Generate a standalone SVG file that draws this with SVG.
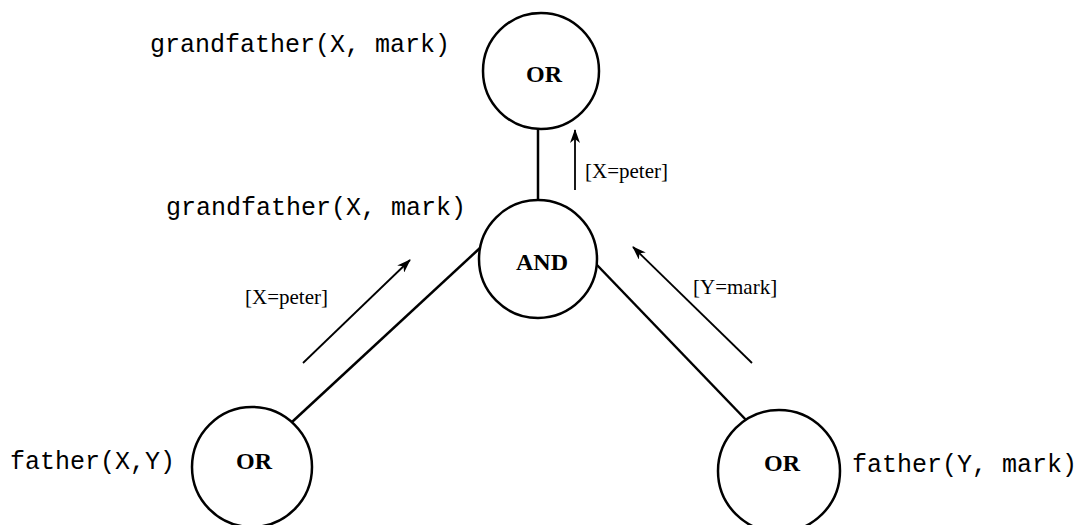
<svg xmlns="http://www.w3.org/2000/svg" width="1088" height="525" viewBox="0 0 1088 525">
<style>
.node{fill:#fff;stroke:#000;stroke-width:2.5}
.op{font-family:"Liberation Serif","Times New Roman",serif;font-weight:bold;font-size:24px;text-anchor:middle}
.pred{font-family:"Liberation Mono","Courier New",monospace;font-size:25px}
.lab{font-family:"Liberation Serif","Times New Roman",serif;font-size:21px}
.edge{stroke:#000;stroke-width:2.5;fill:none}
.flow{stroke:#000;stroke-width:1.8;fill:none;marker-end:url(#ah)}
</style>
<defs>
<marker id="ah" viewBox="0 0 14 10" refX="13" refY="5" markerWidth="14" markerHeight="10" markerUnits="userSpaceOnUse" orient="auto">
<path d="M0,0 L14,5 L0,10 L4,5 Z" fill="#000"/>
</marker>
</defs>
<rect width="1088" height="525" fill="#fff"/>
<g id="connectors">
<line class="edge" x1="538" y1="129" x2="538" y2="200"/>
<line class="edge" x1="480" y1="248" x2="292" y2="422"/>
<line class="edge" x1="597" y1="265" x2="748" y2="422"/>
<line class="flow" x1="575" y1="190" x2="575" y2="130"/>
<line class="flow" x1="303" y1="363" x2="410" y2="260"/>
<line class="flow" x1="752" y1="363" x2="633" y2="247"/>
<text class="lab" x="585" y="178">[X=peter]</text>
<text class="lab" x="245" y="304">[X=peter]</text>
<text class="lab" x="693" y="294">[Y=mark]</text>
</g>
<g id="top-or">
<circle class="node" cx="541" cy="71" r="58"/>
<text class="op" x="544" y="82">OR</text>
<text class="pred" x="150" y="52">grandfather(X, mark)</text>
</g>
<g id="and">
<circle class="node" cx="538" cy="259" r="59"/>
<text class="op" x="542" y="270">AND</text>
<text class="pred" x="166" y="215">grandfather(X, mark)</text>
</g>
<g id="left-or">
<circle class="node" cx="252" cy="467" r="60"/>
<text class="op" x="254" y="469">OR</text>
<text class="pred" x="10" y="469">father(X,Y)</text>
</g>
<g id="right-or">
<circle class="node" cx="779" cy="471" r="61"/>
<text class="op" x="782" y="471">OR</text>
<text class="pred" x="852" y="472">father(Y, mark)</text>
</g>
</svg>
